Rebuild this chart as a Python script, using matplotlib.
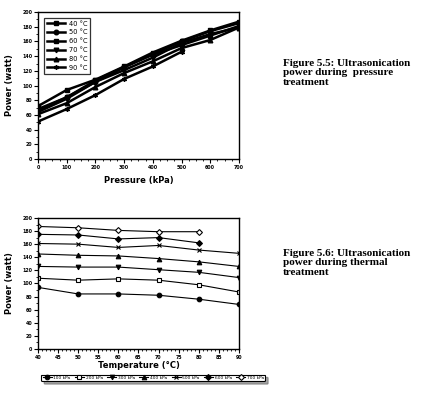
import matplotlib
matplotlib.use("Agg")
import matplotlib.pyplot as plt
from matplotlib.ticker import MultipleLocator

# ---- Data: Figure 5.5 (power vs pressure, per temperature) ----
pressure = [0, 100, 200, 300, 400, 500, 600, 700]
temp_labels = ["40 °C", "50 °C", "60 °C", "70 °C", "80 °C", "90 °C"]
p40 = [72, 94, 108, 126, 145, 161, 175, 187]
p50 = [68, 84, 105, 125, 143, 160, 174, 185]
p60 = [66, 84, 107, 125, 142, 155, 168, 181]
p70 = [64, 82, 105, 121, 138, 158, 170, 179]
p80 = [61, 76, 98, 117, 133, 151, 162, 179]
p90 = [51, 68, 87, 109, 126, 146]

# ---- Data: Figure 5.6 (power vs temperature, per pressure) ----
temperature = [40, 50, 60, 70, 80, 90]
press_labels = ["100 kPa", "200 kPa", "300 kPa", "400 kPa", "500 kPa", "600 kPa", "700 kPa"]
t100 = [94, 84, 84, 82, 76, 68]
t200 = [108, 105, 107, 105, 98, 87]
t300 = [126, 125, 125, 121, 117, 109]
t400 = [145, 143, 142, 138, 133, 126]
t500 = [161, 160, 155, 158, 151, 146]
t600 = [175, 174, 168, 170, 162]
t700 = [187, 185, 181, 179, 179]

fig = plt.figure(figsize=(4.32, 3.97), dpi=100)
fig.patch.set_facecolor("white")

lab_font = dict(family="DejaVu Sans", weight="bold", size=6)
tick_fs = 3.4

def style_axes(ax):
    for s in ax.spines.values():
        s.set_linewidth(1.0)
    ax.tick_params(which="major", direction="out", length=3, width=0.8, labelsize=tick_fs, pad=1)
    ax.tick_params(which="minor", direction="out", length=1.6, width=0.6)
    ax.tick_params(top=False, right=False)
    for lbl in ax.get_xticklabels() + ax.get_yticklabels():
        lbl.set_fontweight("bold")

# ---- Top chart ----
ax1 = fig.add_axes([0.088, 0.5995, 0.465, 0.370])
top_series = [p40, p50, p60, p70, p80, p90]
top_markers = ["s", "o", "s", "v", "^", (6, 2, 0)]
for vals, lab, mk in zip(top_series, temp_labels, top_markers):
    ax1.plot(pressure[:len(vals)], vals, color="black", lw=1.8, marker=mk,
             markersize=3.3, markeredgewidth=1.0, label=lab)
ax1.set_xlim(0, 700)
ax1.set_ylim(0, 200)
ax1.xaxis.set_major_locator(MultipleLocator(100))
ax1.xaxis.set_minor_locator(MultipleLocator(25))
ax1.yaxis.set_major_locator(MultipleLocator(20))
ax1.yaxis.set_minor_locator(MultipleLocator(10))
ax1.set_xlabel("Pressure (kPa)", fontdict=lab_font, labelpad=5)
ax1.set_ylabel("Power (watt)", fontdict=lab_font, labelpad=6)
style_axes(ax1)
leg1 = ax1.legend(loc="upper left", fontsize=4.8, frameon=True, fancybox=False,
                  edgecolor="black", handlelength=2.6, labelspacing=0.42,
                  borderpad=0.45, handletextpad=0.6, bbox_to_anchor=(0.015, 0.985))
leg1.get_frame().set_linewidth(0.9)

# ---- Bottom chart ----
ax2 = fig.add_axes([0.088, 0.121, 0.465, 0.330])
bot_series = [t100, t200, t300, t400, t500, t600, t700]
bot_markers = ["o", "s", "v", "^", "x", "D", "D"]
bot_fill = ["black", "white", "black", "black", "black", "black", "white"]
bot_sizes = [3.3, 2.6, 3.3, 3.3, 3.0, 3.0, 3.0]
for vals, lab, mk, fc, ms in zip(bot_series, press_labels, bot_markers, bot_fill, bot_sizes):
    ax2.plot(temperature[:len(vals)], vals, color="black", lw=0.8, marker=mk,
             markersize=ms, markerfacecolor=fc, markeredgecolor="black",
             markeredgewidth=0.8, label=lab)
ax2.set_xlim(40, 90)
ax2.set_ylim(0, 200)
ax2.xaxis.set_major_locator(MultipleLocator(5))
ax2.xaxis.set_minor_locator(MultipleLocator(1))
ax2.yaxis.set_major_locator(MultipleLocator(20))
ax2.yaxis.set_minor_locator(MultipleLocator(10))
ax2.set_xlabel("Temperature (°C)", fontdict=lab_font, labelpad=1)
ax2.set_ylabel("Power (watt)", fontdict=lab_font, labelpad=6)
style_axes(ax2)
leg2 = fig.legend(*ax2.get_legend_handles_labels(), loc="center",
                  bbox_to_anchor=(0.355, 0.048), ncol=7, fontsize=3.2,
                  frameon=True, fancybox=True, shadow=True, edgecolor="black",
                  handlelength=2.0, columnspacing=1.0, handletextpad=0.4,
                  borderpad=0.3)
leg2.get_frame().set_linewidth(0.8)

# ---- Captions ----
cap_font = dict(family="Liberation Serif", weight="bold", size=8)
fig.text(0.655, 0.852, "Figure 5.5: Ultrasonication\npower during  pressure\ntreatment",
         ha="left", va="top", linespacing=1.1, **cap_font)
fig.text(0.655, 0.374, "Figure 5.6: Ultrasonication\npower during thermal\ntreatment",
         ha="left", va="top", linespacing=1.1, **cap_font)

fig.savefig("out.png", dpi=100, facecolor="white")
